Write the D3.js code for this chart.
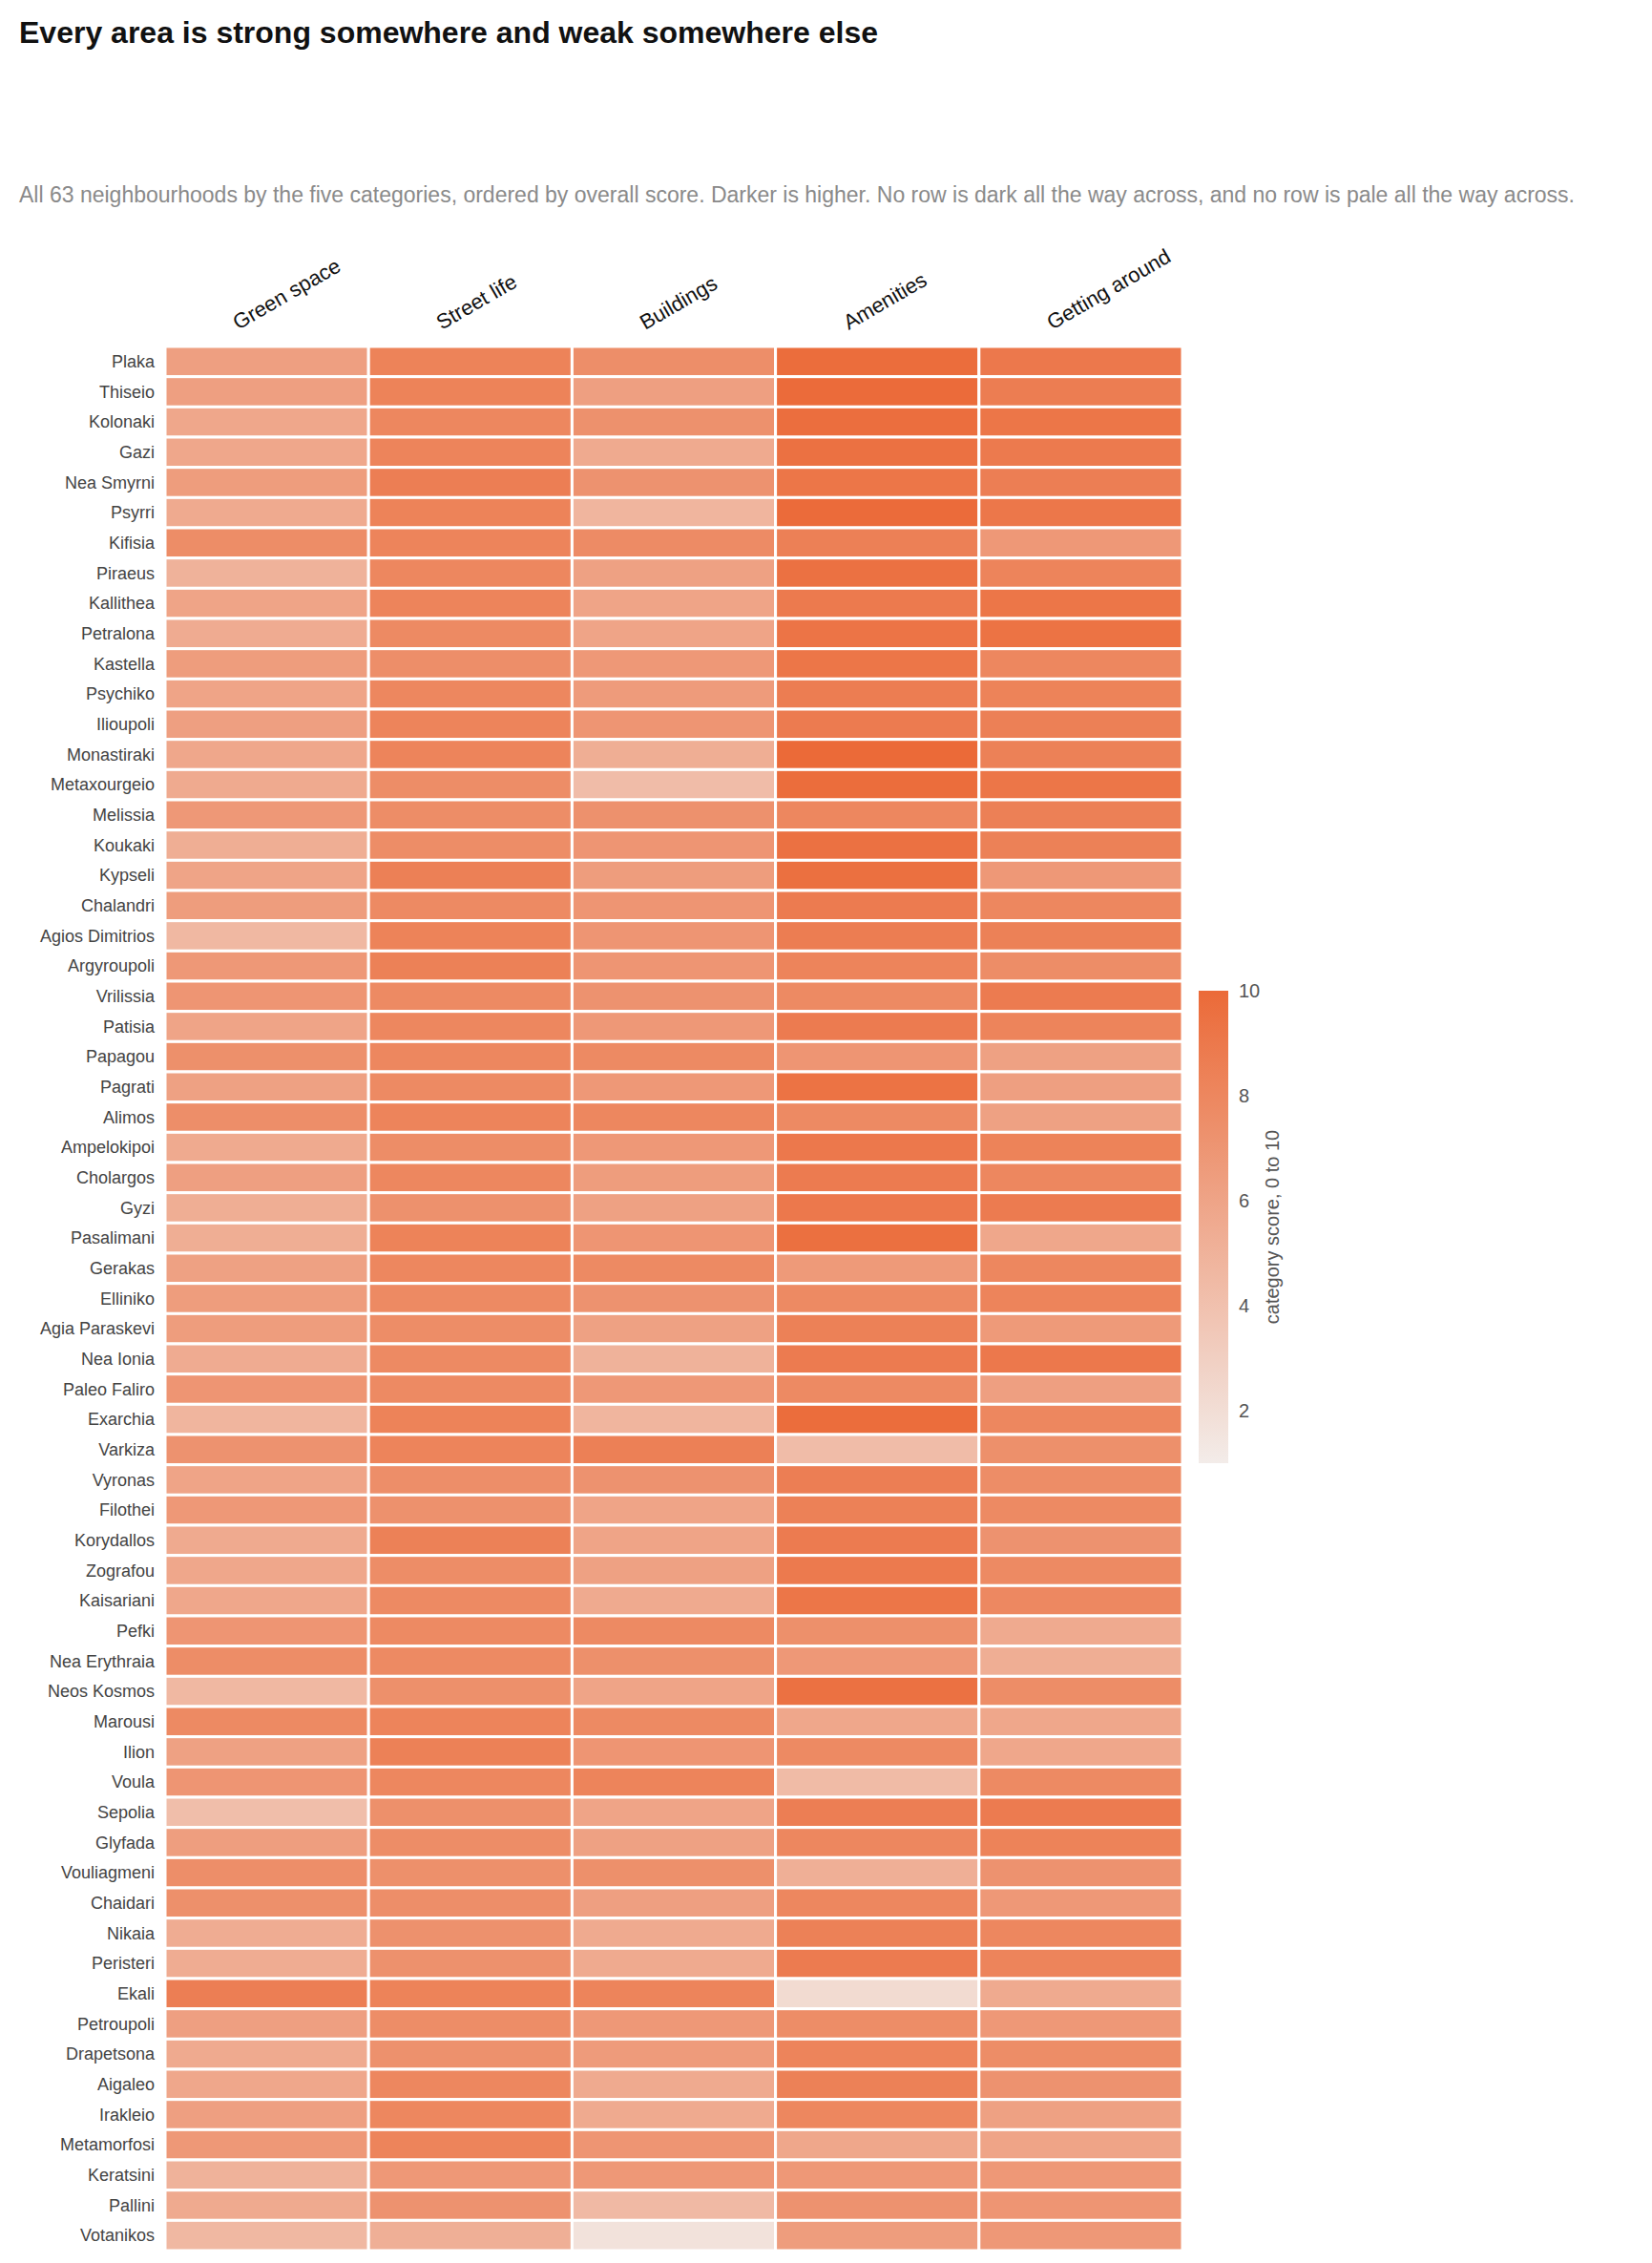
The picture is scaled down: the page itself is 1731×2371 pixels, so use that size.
<!DOCTYPE html>
<html>
<head>
<meta charset="utf-8">
<script src="https://cdn.jsdelivr.net/npm/d3@7"></script>
<style>
  body { margin: 0; background: #fff; font-family: "Liberation Sans", Arial, sans-serif; }
</style>
</head>
<body>
<svg id="chart"></svg>
<script>
const categories = ['Green space', 'Street life', 'Buildings', 'Amenities', 'Getting around'];

const neighbourhoods = ['Plaka', 'Thiseio', 'Kolonaki', 'Gazi', 'Nea Smyrni', 'Psyrri', 'Kifisia', 'Piraeus',
  'Kallithea', 'Petralona', 'Kastella', 'Psychiko', 'Ilioupoli', 'Monastiraki', 'Metaxourgeio', 'Melissia',
  'Koukaki', 'Kypseli', 'Chalandri', 'Agios Dimitrios', 'Argyroupoli', 'Vrilissia', 'Patisia', 'Papagou',
  'Pagrati', 'Alimos', 'Ampelokipoi', 'Cholargos', 'Gyzi', 'Pasalimani', 'Gerakas', 'Elliniko',
  'Agia Paraskevi', 'Nea Ionia', 'Paleo Faliro', 'Exarchia', 'Varkiza', 'Vyronas', 'Filothei', 'Korydallos',
  'Zografou', 'Kaisariani', 'Pefki', 'Nea Erythraia', 'Neos Kosmos', 'Marousi', 'Ilion', 'Voula', 'Sepolia',
  'Glyfada', 'Vouliagmeni', 'Chaidari', 'Nikaia', 'Peristeri', 'Ekali', 'Petroupoli', 'Drapetsona',
  'Aigaleo', 'Irakleio', 'Metamorfosi', 'Keratsini', 'Pallini', 'Votanikos'];

// one array per category, same order as neighbourhoods
const greenSpace = [6.3, 6.3, 5.8, 5.8, 6.5, 5.6, 7.6, 5.0, 6.0, 5.5, 6.5, 6.0, 6.3, 5.8, 5.6, 6.8,
  5.3, 6.0, 6.5, 4.6, 6.8, 7.0, 6.0, 7.4, 6.2, 7.5, 5.6, 6.3, 5.3, 5.3, 6.2, 6.5,
  6.5, 5.5, 7.0, 4.8, 7.2, 6.0, 6.8, 5.6, 5.8, 5.8, 7.0, 7.6, 4.6, 7.8, 6.2, 7.0,
  4.2, 6.4, 7.5, 7.4, 5.4, 5.4, 8.6, 6.3, 5.6, 5.8, 6.3, 6.8, 5.0, 5.6, 4.6];
const streetLife = [8.3, 8.3, 8.0, 8.2, 8.6, 8.3, 8.2, 8.0, 8.2, 7.8, 7.5, 8.0, 8.2, 8.2, 7.6, 7.6,
  7.6, 8.5, 7.8, 8.3, 8.4, 7.8, 8.0, 8.0, 7.8, 8.2, 7.6, 8.0, 7.3, 8.3, 8.0, 7.8,
  7.6, 7.8, 7.8, 8.3, 8.2, 7.5, 7.3, 8.4, 7.6, 7.8, 7.8, 7.8, 7.4, 8.2, 8.4, 8.0,
  7.4, 7.6, 7.4, 7.5, 7.3, 7.3, 8.3, 7.6, 7.3, 8.0, 8.0, 8.2, 6.8, 7.2, 5.2];
const buildings = [7.5, 6.3, 7.3, 5.6, 7.2, 4.8, 7.7, 6.2, 6.0, 6.0, 6.8, 6.6, 7.0, 5.3, 4.3, 7.3,
  7.0, 6.5, 7.0, 7.0, 7.0, 7.2, 6.8, 7.8, 6.8, 8.0, 6.8, 6.5, 6.2, 7.0, 7.8, 7.2,
  6.2, 5.0, 6.8, 4.8, 8.5, 7.2, 6.0, 6.0, 6.2, 5.6, 7.8, 7.4, 6.0, 7.8, 7.0, 8.2,
  6.0, 6.2, 7.4, 6.3, 5.6, 5.6, 8.2, 6.8, 6.6, 5.6, 5.6, 7.0, 6.8, 4.5, 1.7];
const amenities = [9.8, 9.9, 9.7, 9.5, 9.2, 9.9, 8.5, 9.5, 8.9, 9.3, 9.2, 8.7, 8.8, 10.0, 9.8, 8.0,
  9.5, 9.6, 8.8, 8.7, 8.2, 7.8, 8.8, 7.0, 9.4, 7.8, 9.0, 8.8, 9.0, 9.6, 6.7, 7.8,
  8.4, 8.8, 7.8, 9.8, 4.3, 8.6, 8.4, 8.8, 8.9, 9.2, 7.4, 6.8, 9.5, 5.8, 7.8, 4.4,
  8.6, 8.0, 5.2, 8.0, 8.4, 8.8, 2.2, 7.6, 8.2, 8.4, 8.0, 5.8, 6.8, 7.2, 6.5];
const gettingAround = [9.0, 8.7, 9.2, 8.9, 8.6, 9.1, 6.8, 8.2, 9.2, 9.4, 8.0, 8.3, 8.5, 8.4, 9.2, 8.5,
  8.4, 6.8, 8.0, 8.4, 7.6, 8.8, 8.2, 6.2, 6.3, 6.2, 8.3, 8.0, 8.8, 5.8, 8.0, 8.2,
  6.7, 9.0, 6.3, 8.0, 7.4, 7.6, 7.8, 7.2, 7.8, 7.9, 5.6, 5.3, 7.6, 5.8, 5.8, 7.8,
  8.8, 8.3, 7.2, 6.8, 8.0, 8.2, 5.6, 6.8, 7.6, 7.2, 6.2, 6.0, 6.8, 7.0, 6.8];

const legendTicks = [2, 4, 6, 8, 10];

const series = [greenSpace, streetLife, buildings, amenities, gettingAround];
const cells = [];
neighbourhoods.forEach((n, i) => {
  categories.forEach((c, j) => cells.push({ name: n, cat: c, value: series[j][i] }));
});

const W = 1731, H = 2371;
const margin = { top: 363, left: 173 };
const gridW = 1066, gridH = 1995;

const svg = d3.select('#chart').attr('width', W).attr('height', H);

svg.append('text')
  .attr('x', 20).attr('y', 45)
  .attr('font-size', 32).attr('font-weight', 'bold').attr('fill', '#111')
  .text('Every area is strong somewhere and weak somewhere else');

svg.append('text')
  .attr('x', 20).attr('y', 212)
  .attr('font-size', 23).attr('fill', '#8a8a8a')
  .text('All 63 neighbourhoods by the five categories, ordered by overall score. Darker is higher. No row is dark all the way across, and no row is pale all the way across.');

const x = d3.scaleBand().domain(categories).range([0, gridW]);
const y = d3.scaleBand().domain(neighbourhoods).range([0, gridH]);
const color = d3.scaleLinear().domain([1, 10]).range(['#f3ece9', '#eb6a38']).interpolate(d3.interpolateRgb);

const g = svg.append('g').attr('transform', `translate(${margin.left},${margin.top})`);

g.selectAll('rect.cell')
  .data(cells)
  .enter().append('rect')
  .attr('class', 'cell')
  .attr('x', d => x(d.cat))
  .attr('y', d => y(d.name))
  .attr('width', x.bandwidth())
  .attr('height', y.bandwidth())
  .attr('fill', d => color(d.value))
  .attr('stroke', '#fff')
  .attr('stroke-width', 3);

// row labels
g.selectAll('text.row')
  .data(neighbourhoods)
  .enter().append('text')
  .attr('x', -11)
  .attr('y', d => y(d) + y.bandwidth() / 2)
  .attr('dy', '0.35em')
  .attr('text-anchor', 'end')
  .attr('font-size', 18).attr('fill', '#444')
  .text(d => d);

// column labels, rotated
g.selectAll('text.col')
  .data(categories)
  .enter().append('text')
  .attr('transform', d => `translate(${x(d) + x.bandwidth() / 2 - 30},${-17}) rotate(-30)`)
  .attr('font-size', 22).attr('fill', '#111')
  .text(d => d);

// colour legend
const lg = svg.append('g').attr('transform', 'translate(1256,1038)');
const lH = 495, lW = 31;
const ly = d3.scaleLinear().domain([1, 10]).range([lH, 0]);
const grad = svg.append('defs').append('linearGradient')
  .attr('id', 'lg').attr('x1', 0).attr('x2', 0).attr('y1', 1).attr('y2', 0);
d3.range(0, 11).forEach(k => {
  grad.append('stop').attr('offset', k / 10).attr('stop-color', color(1 + 9 * k / 10));
});
lg.append('rect').attr('width', lW).attr('height', lH).attr('fill', 'url(#lg)');
lg.selectAll('text.tick')
  .data(legendTicks)
  .enter().append('text')
  .attr('x', lW + 11)
  .attr('y', d => ly(d))
  .attr('dy', '0.35em')
  .attr('font-size', 20).attr('fill', '#555')
  .text(d => d);
lg.append('text')
  .attr('transform', `translate(${lW + 53},${lH / 2}) rotate(-90)`)
  .attr('text-anchor', 'middle')
  .attr('font-size', 20).attr('fill', '#555')
  .text('category score, 0 to 10');
</script>
</body>
</html>
